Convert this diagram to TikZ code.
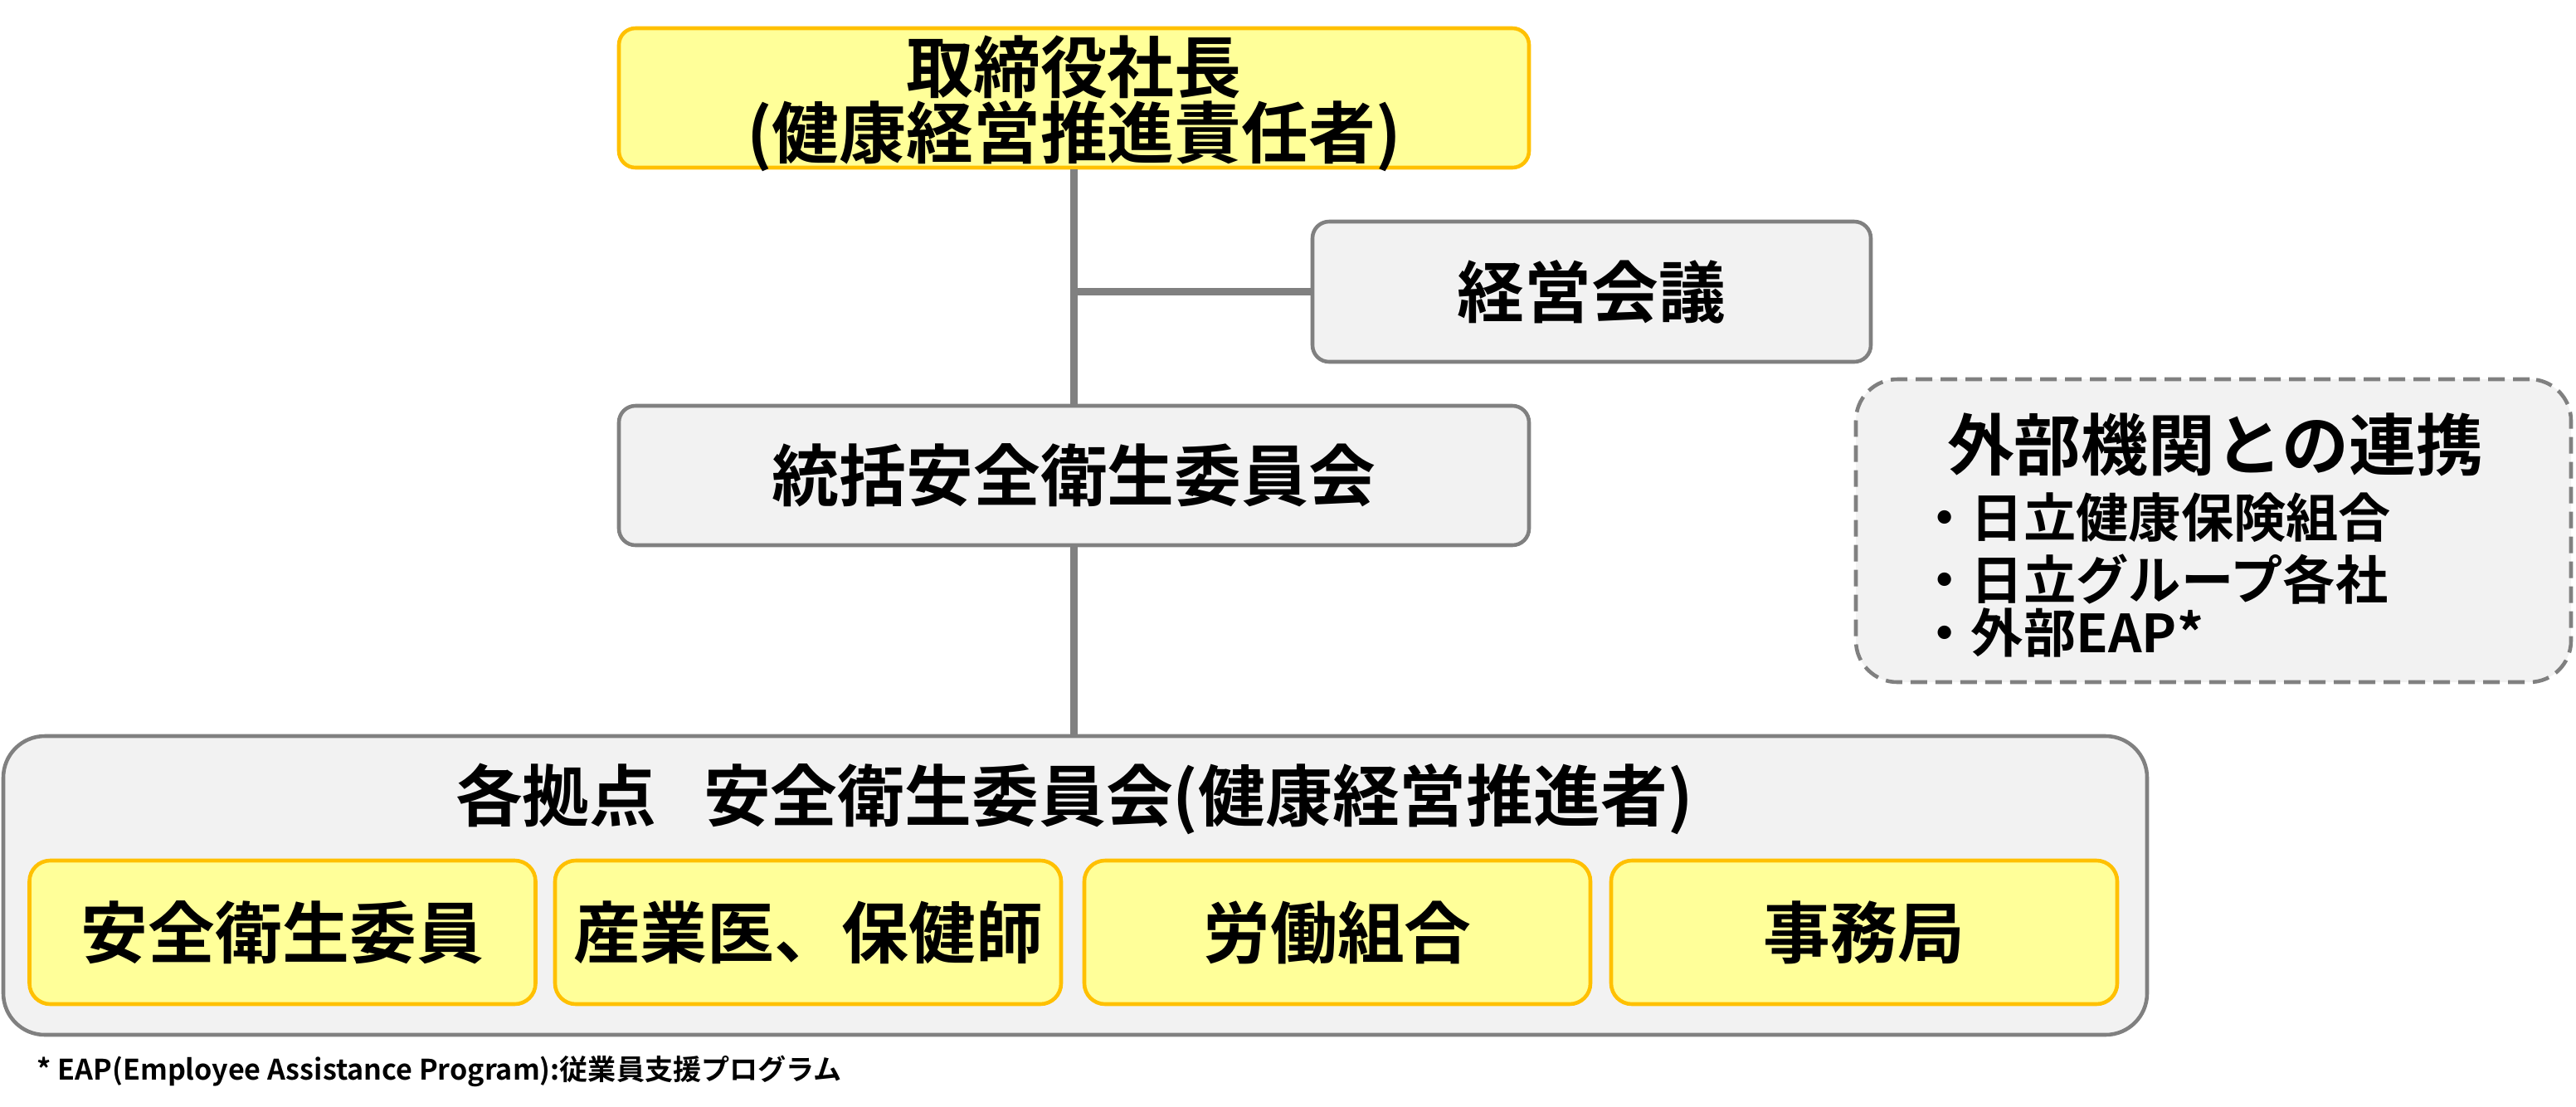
\documentclass[tikz,border=0pt]{standalone}
\usepackage{fontspec}
\setmainfont{Noto Sans CJK JP}[BoldFont={Noto Sans CJK JP Bold}]
\usepackage{xcolor}
\usetikzlibrary{positioning}
\definecolor{boxyellow}{HTML}{FFFF99}
\definecolor{boxgold}{HTML}{FFC000}
\definecolor{boxgrey}{HTML}{F2F2F2}
\definecolor{linegrey}{HTML}{808080}
\tikzset{
  % Riquadri
  box/.style={draw,line width=1.3pt,rounded corners=0.2cm,inner sep=0pt,align=center,
    font=\bfseries\fontsize{23}{22.5}\selectfont},
  box yellow/.style={box,draw=boxgold,fill=boxyellow},
  box grey/.style={box,draw=linegrey,fill=boxgrey},
  box site/.style={box yellow,minimum width=6.1cm,minimum height=1.73cm,rounded corners=0.25cm},
  box outer/.style={box grey,rounded corners=0.5cm},
  % Testi
  label big/.style={inner sep=0pt,align=center,font=\bfseries\fontsize{23}{22.5}\selectfont},
  label list/.style={inner sep=0pt,anchor=west,font=\bfseries\fontsize{18}{20}\selectfont},
  label note/.style={inner sep=0pt,anchor=west,font=\bfseries\fontsize{9.7}{11}\selectfont},
  % Connessioni
  connect/.style={line width=2.6pt,linegrey}
}
\begin{document}
\begin{tikzpicture}
        \useasboundingbox (0,0) rectangle (31.05,-13.33);
        % Vertice
        \node[box yellow,minimum width=10.97cm,minimum height=1.68cm] (ceo) at (12.945,-1.18) {};
        \node[label big] (ceo title) at (12.945,-1.25) {取締役社長\\(健康経営推進責任者)};
        \node[box grey,minimum width=6.73cm,minimum height=1.69cm] (board) at (19.185,-3.515) {経営会議};
        \node[box grey,minimum width=10.97cm,minimum height=1.68cm] (central) at (12.945,-5.73) {統括安全衛生委員会};
        % Collaborazione esterna
        \node[box outer,dash pattern=on 0.2cm off 0.1cm,minimum width=8.62cm,minimum height=3.65cm] (ext) at (26.68,-6.395) {};
        \node[label big] (ext title) at (26.70,-5.36) {外部機関との連携};
        \node[label list] (ext a) at (23.12,-6.24) {・日立健康保険組合};
        \node[label list] (ext b) at (23.12,-6.98) {・日立グループ各社};
        \node[label list] (ext c) at (23.12,-7.62) {・外部EAP*};
        % Sedi
        \node[box outer,minimum width=25.84cm,minimum height=3.6cm] (sites) at (12.96,-10.67) {};
        \node[label big] (sites title) at (12.95,-9.63) {各拠点\hspace{0.7em}安全衛生委員会(健康経営推進者)};
        \node[box site] (member) at (3.405,-11.235) {安全衛生委員};
        \node[box site] (doctor) at (9.74,-11.235) {産業医、保健師};
        \node[box site] (union) at (16.12,-11.235) {労働組合};
        \node[box site] (office) at (22.47,-11.235) {事務局};
        % Linee
        \draw[connect] (ceo.south) -- (central.north);
        \draw[connect] (central.south) -- (central.south |- sites.north);
        \draw[connect] (board.west) -- (board.west -| ceo.south);
        % Nota
        \node[label note] (note) at (0.44,-12.91) {* EAP(Employee Assistance Program):従業員支援プログラム};
      \end{tikzpicture}
\end{document}
